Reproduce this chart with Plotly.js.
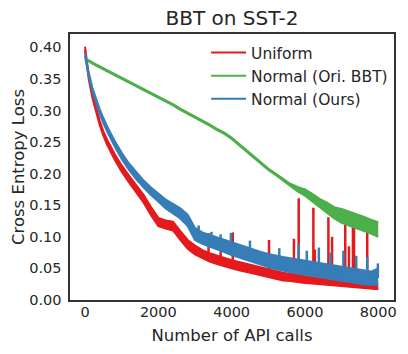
<!DOCTYPE html>
<html>
<head>
<meta charset="utf-8">
<script src="https://cdn.plot.ly/plotly-3.0.1.min.js"></script>
<style>
  html, body { margin: 0; padding: 0; background: #fff; }
  #chart { width: 408px; height: 354px; }
</style>
</head>
<body>
<div id="chart"></div>
<script>
// number of API calls, where the band edges were read
var calls = [0, 50, 100, 200, 300, 400, 500, 600, 800, 1000, 1200, 1400, 1600, 1800, 2000,
  2200, 2400, 2600, 2800, 3000, 3200, 3400, 3600, 3800, 4000, 4200, 4400, 4600, 4800, 5000,
  5200, 5400, 5600, 5800, 6000, 6200, 6400, 6600, 6800, 7000, 7200, 7400, 7600, 7800, 8000];

// Uniform: lower / upper edge of the noisy loss band
var uniformLo = [0.396, 0.369, 0.350, 0.320, 0.297, 0.277, 0.260, 0.246, 0.223, 0.203, 0.186, 0.170, 0.154, 0.134, 0.117,
  0.113, 0.110, 0.095, 0.081, 0.072, 0.066, 0.061, 0.057, 0.053, 0.050, 0.047, 0.045, 0.042, 0.039, 0.036,
  0.034, 0.031, 0.030, 0.028, 0.027, 0.026, 0.025, 0.024, 0.022, 0.021, 0.020, 0.019, 0.018, 0.017, 0.017];
var uniformHi = [0.401, 0.375, 0.356, 0.326, 0.303, 0.284, 0.267, 0.254, 0.232, 0.213, 0.197, 0.181, 0.166, 0.147, 0.130,
  0.126, 0.124, 0.109, 0.095, 0.086, 0.079, 0.074, 0.070, 0.066, 0.063, 0.060, 0.057, 0.054, 0.051, 0.048,
  0.045, 0.043, 0.041, 0.039, 0.037, 0.036, 0.034, 0.033, 0.032, 0.030, 0.029, 0.028, 0.027, 0.026, 0.025];

// Normal (Ori. BBT)
var oriLo = [0.381, 0.379, 0.377, 0.374, 0.371, 0.368, 0.365, 0.362, 0.357, 0.351, 0.345, 0.339, 0.333, 0.327, 0.321,
  0.315, 0.308, 0.301, 0.295, 0.289, 0.282, 0.276, 0.269, 0.263, 0.255, 0.245, 0.236, 0.226, 0.216, 0.206,
  0.198, 0.189, 0.180, 0.172, 0.165, 0.156, 0.147, 0.139, 0.129, 0.122, 0.118, 0.114, 0.109, 0.105, 0.100];
var oriHi = [0.383, 0.381, 0.379, 0.376, 0.373, 0.370, 0.367, 0.364, 0.359, 0.353, 0.347, 0.341, 0.335, 0.329, 0.323,
  0.317, 0.310, 0.303, 0.297, 0.291, 0.284, 0.278, 0.271, 0.265, 0.257, 0.247, 0.238, 0.228, 0.218, 0.208,
  0.200, 0.192, 0.184, 0.179, 0.175, 0.168, 0.160, 0.154, 0.147, 0.144, 0.140, 0.137, 0.132, 0.127, 0.123];

// Normal (Ours)
var oursLo = [0.386, 0.367, 0.354, 0.330, 0.312, 0.295, 0.280, 0.267, 0.244, 0.223, 0.206, 0.191, 0.178, 0.166, 0.156,
  0.145, 0.137, 0.129, 0.117, 0.095, 0.089, 0.085, 0.080, 0.076, 0.071, 0.067, 0.063, 0.059, 0.055, 0.052,
  0.049, 0.046, 0.044, 0.042, 0.040, 0.038, 0.036, 0.034, 0.032, 0.030, 0.028, 0.026, 0.025, 0.024, 0.024];
var oursHi = [0.391, 0.373, 0.360, 0.336, 0.318, 0.302, 0.288, 0.275, 0.253, 0.233, 0.216, 0.202, 0.189, 0.178, 0.169,
  0.159, 0.152, 0.145, 0.135, 0.114, 0.107, 0.103, 0.099, 0.095, 0.091, 0.087, 0.083, 0.079, 0.076, 0.073,
  0.070, 0.068, 0.066, 0.064, 0.062, 0.060, 0.058, 0.056, 0.054, 0.052, 0.050, 0.048, 0.046, 0.045, 0.050];

// isolated spikes of the Uniform run
var spikeCalls = [3370, 3700, 4030, 5020, 5700, 5830, 6230, 6270, 6640, 6740, 7100, 7200, 7310, 7340, 7700];
var spikeTop = [0.106, 0.097, 0.107, 0.095, 0.097, 0.161, 0.146, 0.080, 0.131, 0.100, 0.119, 0.085, 0.120, 0.117, 0.110];
var spikeBase = [0.067, 0.062, 0.056, 0.042, 0.036, 0.034, 0.031, 0.031, 0.029, 0.028, 0.026, 0.025, 0.025, 0.025, 0.023];

// isolated spikes of the Normal (Ours) run
var oursSpikeCalls = [3100, 3450, 3700, 3980, 4500, 5300, 5830, 6050, 6380, 6700, 7050, 7400, 7700, 7990];
var oursSpikeTop = [0.118, 0.108, 0.104, 0.106, 0.094, 0.082, 0.088, 0.078, 0.083, 0.075, 0.078, 0.070, 0.068, 0.058];
var oursSpikeBase = [0.100, 0.094, 0.090, 0.084, 0.074, 0.060, 0.054, 0.052, 0.048, 0.045, 0.042, 0.038, 0.036, 0.035];

var names = ['Uniform', 'Normal (Ori. BBT)', 'Normal (Ours)'];
var colors = ['#e41a1c', '#4daf4a', '#377eb8'];

function band(lo, hi, name, color) {
  var upper = {
    x: calls, y: hi, name: name, type: 'scatter', mode: 'lines',
    line: {color: color, width: 2}, legendgroup: name, hoverinfo: 'skip'
  };
  var lower = {
    x: calls, y: lo, name: name, type: 'scatter', mode: 'lines',
    line: {color: color, width: 2}, fill: 'tonexty', fillcolor: color,
    legendgroup: name, showlegend: false, hoverinfo: 'skip'
  };
  return [upper, lower];
}

function spikeTrace(xs, base, top, color) {
  var sx = [], sy = [];
  for (var i = 0; i < xs.length; i++) {
    sx.push(xs[i], xs[i], null);
    sy.push(base[i], top[i], null);
  }
  return {
    x: sx, y: sy, type: 'scatter', mode: 'lines', showlegend: false,
    line: {color: color, width: 2.5}, hoverinfo: 'skip'
  };
}

var data = band(uniformLo, uniformHi, names[0], colors[0])
  .concat([spikeTrace(spikeCalls, spikeBase, spikeTop, colors[0])])
  .concat(band(oriLo, oriHi, names[1], colors[1]))
  .concat(band(oursLo, oursHi, names[2], colors[2]))
  .concat([spikeTrace(oursSpikeCalls, oursSpikeBase, oursSpikeTop, colors[2])]);

var layout = {
  width: 408,
  height: 354,
  margin: {l: 70, r: 14, t: 34, b: 54},
  paper_bgcolor: '#ffffff',
  plot_bgcolor: '#ffffff',
  font: {family: 'DejaVu Sans', color: '#262626', size: 15},
  title: {
    text: 'BBT on SST-2', font: {size: 20},
    xref: 'paper', x: 0.5, xanchor: 'center',
    yref: 'container', y: 0.95, yanchor: 'middle'
  },
  showlegend: true,
  legend: {
    x: 0.42, y: 0.9925, xanchor: 'left', yanchor: 'top',
    bgcolor: 'rgba(0,0,0,0)', font: {size: 15.5}, tracegroupgap: 0,
    itemwidth: 35
  },
  xaxis: {
    range: [-410, 8430],
    tickvals: [0, 2000, 4000, 6000, 8000],
    ticks: '', showgrid: false, zeroline: false,
    showline: true, mirror: true, linecolor: '#333333', linewidth: 1.6,
    ticklabelstandoff: -2,
    tickfont: {size: 14.5},
    automargin: true,
    title: {text: 'Number of API calls', font: {size: 16.5}, standoff: 10}
  },
  yaxis: {
    range: [0, 0.421],
    tickvals: [0, 0.05, 0.1, 0.15, 0.2, 0.25, 0.3, 0.35, 0.4],
    tickformat: '.2f',
    ticks: '', showgrid: false, zeroline: false,
    showline: true, mirror: true, linecolor: '#333333', linewidth: 1.6,
    ticklabelstandoff: 4,
    tickfont: {size: 14.5},
    automargin: true,
    title: {text: 'Cross Entropy Loss', font: {size: 16.5}, standoff: 0}
  }
};

Plotly.newPlot('chart', data, layout, {displayModeBar: false, staticPlot: true});
</script>
</body>
</html>
